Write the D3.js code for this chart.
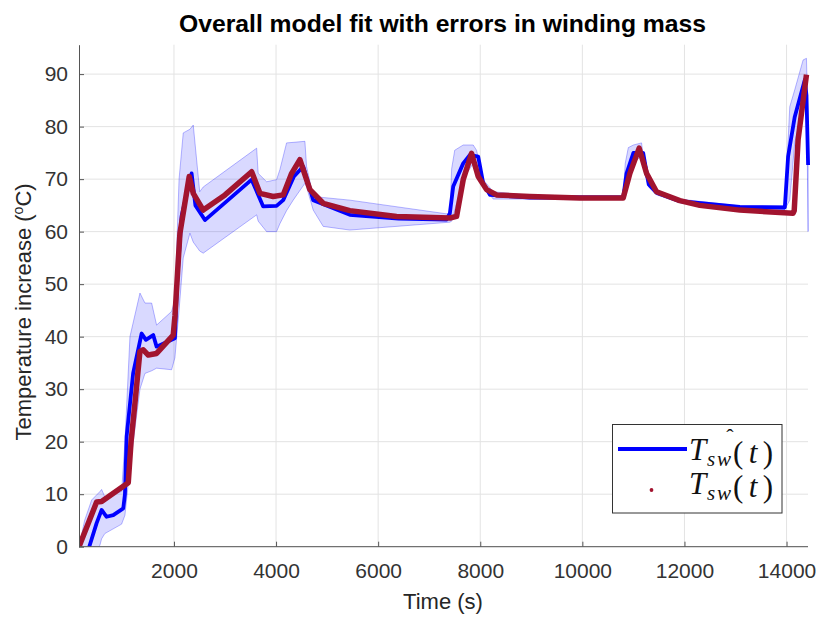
<!DOCTYPE html>
<html>
<head>
<meta charset="utf-8">
<script src="https://cdn.jsdelivr.net/npm/d3@7"></script>
<style>
  body { margin: 0; background: #fff; }
  svg { display: block; }
</style>
</head>
<body>
<div class="canvas"></div>
<script>
// measured winding temperature (red)
const measuredTime = [140, 485, 583, 1105, 1160, 1236, 1334, 1399, 1497, 1660, 1986, 2020, 2117, 2299, 2378, 2573, 3000, 3522, 3684, 3944, 4140, 4300, 4467, 4663, 4923, 5445, 6361, 7405, 7536, 7666, 7830, 7960, 8124, 8320, 8972, 9951, 10800, 10931, 11113, 11257, 11453, 11909, 12301, 13085, 14128, 14150, 14226, 14390];
const measuredTemp = [0, 8.5, 8.6, 12.2, 20, 27.3, 37.2, 37.5, 36.5, 36.8, 40.3, 44, 59.7, 70.5, 67.3, 64.1, 67, 71.4, 67.3, 66.7, 67.0, 71, 73.7, 68.0, 65.4, 64.0, 62.9, 62.6, 62.9, 69.9, 74.9, 70.5, 68.0, 67.0, 66.7, 66.4, 66.4, 71.1, 75.9, 71.1, 67.6, 65.9, 65.0, 64.1, 63.5, 64, 77.5, 89.9];

// model estimate (blue)
const modelTime = [341, 485, 583, 681, 811, 1007, 1040, 1073, 1200, 1367, 1451, 1594, 1660, 2019, 2060, 2150, 2346, 2420, 2607, 3522, 3748, 4010, 4140, 4350, 4532, 4728, 5445, 6400, 7340, 7405, 7470, 7666, 7797, 7960, 8058, 8189, 8972, 10800, 10866, 11000, 11191, 11300, 11453, 11909, 13085, 13966, 14030, 14161, 14357, 14390, 14422];
const modelTemp = [0, 4.5, 7.0, 5.7, 6.0, 7.3, 10, 21, 33, 40.6, 39.4, 40.3, 38.1, 39.7, 50, 63, 71.1, 65, 62.2, 69.9, 64.8, 64.9, 66.0, 70.5, 72.4, 66.0, 63.2, 62.5, 62.3, 63.5, 68.6, 73.0, 74.6, 74.3, 69.2, 67.0, 66.5, 66.5, 71.1, 75, 75.0, 69, 67.4, 65.8, 64.7, 64.6, 74.3, 81.9, 88.9, 86, 72.7];

// error band from winding mass uncertainty
const bandTime = [140, 250, 388, 550, 583, 646, 975, 1040, 1138, 1334, 1432, 1563, 1660, 1954, 2019, 2100, 2182, 2313, 2378, 2505, 2573, 3620, 3650, 3815, 4010, 4075, 4206, 4336, 4565, 4598, 4728, 4923, 5445, 7405, 7440, 7500, 7666, 7862, 7927, 8058, 8254, 8972, 10800, 10840, 10900, 11000, 11160, 11220, 11300, 11453, 11909, 13085, 13966, 14063, 14160, 14324, 14390, 14422];
const bandUpper = [0, 5, 8.9, 10.5, 10.9, 9.5, 10.5, 20, 40, 48.3, 46.4, 46.4, 42.2, 44.8, 47, 70, 78.8, 79.5, 80.3, 67.6, 68.5, 75.9, 71.1, 69.5, 69.9, 71.8, 76.9, 77.0, 77.2, 72.4, 66.7, 66.5, 66.0, 63.3, 72, 75.5, 76.5, 76.5, 75.5, 69.9, 67.6, 66.9, 66.8, 73, 76.0, 76.5, 76.9, 72, 69.5, 68, 66.2, 64.9, 64.9, 83.8, 87, 92.7, 93.0, 80];
const bandLower = [-6, -4, -2, 0.3, 1.5, 2.5, 4.3, 6, 15, 30, 33, 33.5, 34, 33.7, 36, 45, 55, 59.7, 58, 56.3, 55.9, 63.2, 62, 60.0, 60.0, 61.5, 64, 66.0, 69.2, 68.5, 64.1, 61.0, 60.3, 61.8, 62, 64, 70, 73, 73.0, 68.6, 66.2, 66.2, 66.2, 66.5, 69, 73, 74.5, 71, 68.5, 67, 65.5, 64.3, 64.2, 66, 76.9, 84, 87.6, 60.0];

const xTicks = [2000, 4000, 6000, 8000, 10000, 12000, 14000];
const yTicks = [0, 10, 20, 30, 40, 50, 60, 70, 80, 90];

const W = 819, H = 617;
const svg = d3.select(".canvas").append("svg").attr("width", W).attr("height", H);

const xScale = d3.scaleLinear().domain([140, 14420]).range([79, 808]);
const yScale = d3.scaleLinear().domain([0, 95.6]).range([546.7, 44.7]);

const sans = "Liberation Sans, Arial, Helvetica, sans-serif";

svg.append("defs").append("clipPath").attr("id", "plotclip")
  .append("rect").attr("x", 79).attr("y", 40).attr("width", 740).attr("height", 506.7);

// grid
let grid = svg.append("g").attr("stroke", "#e3e3e3").attr("stroke-width", 1);
grid.selectAll(".gx").data(xTicks).join("line")
  .attr("x1", (d) => xScale(d)).attr("x2", (d) => xScale(d))
  .attr("y1", yScale(95.6)).attr("y2", yScale(0));
grid.selectAll(".gy").data(yTicks).join("line")
  .attr("x1", xScale(140)).attr("x2", xScale(14420))
  .attr("y1", (d) => yScale(d)).attr("y2", (d) => yScale(d));

let plot = svg.append("g").attr("clip-path", "url(#plotclip)");

let band = bandTime.map((t, i) => ({ t: t, hi: bandUpper[i], lo: bandLower[i] }));
let area = d3.area().x((d) => xScale(d.t)).y0((d) => yScale(d.lo)).y1((d) => yScale(d.hi));
plot.append("path").datum(band).attr("d", area)
  .attr("fill", "rgba(0,0,255,0.15)").attr("stroke", "rgba(0,0,255,0.28)").attr("stroke-width", 1);

let line = d3.line().x((d) => xScale(d[0])).y((d) => yScale(d[1]));
plot.append("path").datum(modelTime.map((t, i) => [t, modelTemp[i]]))
  .attr("d", line).attr("fill", "none").attr("stroke", "#0000ff")
  .attr("stroke-width", 3.8).attr("stroke-linejoin", "round");
plot.append("path").datum(measuredTime.map((t, i) => [t, measuredTemp[i]]))
  .attr("d", line).attr("fill", "none").attr("stroke", "#a2142f")
  .attr("stroke-width", 5.5).attr("stroke-linejoin", "round");

// axes
let xAxis = d3.axisBottom(xScale).tickValues(xTicks).tickFormat(d3.format("d"))
  .tickSizeInner(-5).tickSizeOuter(0).tickPadding(16);
let yAxis = d3.axisLeft(yScale).tickValues(yTicks)
  .tickSizeInner(-5).tickSizeOuter(0).tickPadding(11);

let gx = svg.append("g").attr("transform", `translate(0,${yScale(0)})`).call(xAxis);
let gy = svg.append("g").attr("transform", `translate(${xScale(140)},0)`).call(yAxis);
gx.select(".domain").attr("d", `M${xScale(140)},0H${xScale(14420)}`);
[gx, gy].forEach((g) => {
  g.selectAll("path, line").attr("stroke", "#555").attr("stroke-width", 1);
  g.selectAll("text").attr("fill", "#333").style("font-family", sans).style("font-size", "21px");
});

// labels
svg.append("text").attr("x", 442.5).attr("y", 32).attr("text-anchor", "middle")
  .attr("textLength", 527).attr("lengthAdjust", "spacingAndGlyphs")
  .style("font-family", sans).style("font-weight", 700).style("font-size", "24px")
  .attr("fill", "#000").text("Overall model fit with errors in winding mass");
svg.append("text").attr("x", 443).attr("y", 609).attr("text-anchor", "middle")
  .style("font-family", sans).style("font-size", "22px")
  .attr("fill", "#262626").text("Time (s)");
let yl = svg.append("text").attr("transform", "translate(31,312) rotate(-90)").attr("text-anchor", "middle")
  .style("font-family", sans).style("font-size", "22px").attr("fill", "#262626");
yl.append("tspan").text("Temperature increase (");
yl.append("tspan").attr("dy", -8).style("font-size", "14px").text("o");
yl.append("tspan").attr("dy", 8).text("C)");

// legend
let lg = svg.append("g");
lg.append("rect").attr("x", 612.5).attr("y", 424.5).attr("width", 169.5).attr("height", 88.5)
  .attr("fill", "#fff").attr("stroke", "#333").attr("stroke-width", 1);
lg.append("line").attr("x1", 618).attr("x2", 687).attr("y1", 449).attr("y2", 449)
  .attr("stroke", "#0000ff").attr("stroke-width", 3.8);
lg.append("circle").attr("cx", 651.5).attr("cy", 490).attr("r", 1.9).attr("fill", "#a2142f");

let mathFont = "Liberation Serif, DejaVu Serif, serif";
let legendRows = [{ y: 460, hat: true }, { y: 494, hat: false }];
legendRows.forEach((r) => {
  let g = lg.append("g").style("font-family", mathFont).attr("fill", "#111");
  g.append("text").attr("x", 689).attr("y", r.y).style("font-size", "31px").style("font-style", "italic").text("T");
  g.append("text").attr("x", 707).attr("y", r.y + 6).style("font-size", "21px").style("font-style", "italic")
    .attr("textLength", 24).attr("lengthAdjust", "spacing").text("sw");
  let p = g.append("text").attr("x", 733).attr("y", r.y + 3).style("font-size", "31px")
    .attr("textLength", 40).attr("lengthAdjust", "spacing");
  p.append("tspan").text("(");
  p.append("tspan").style("font-style", "italic").text("t");
  p.append("tspan").text(")");
  if (r.hat) {
    g.append("text").attr("x", 730).attr("y", r.y - 16).attr("text-anchor", "middle")
      .style("font-size", "22px").text("ˆ");
  }
});
</script>
</body>
</html>
